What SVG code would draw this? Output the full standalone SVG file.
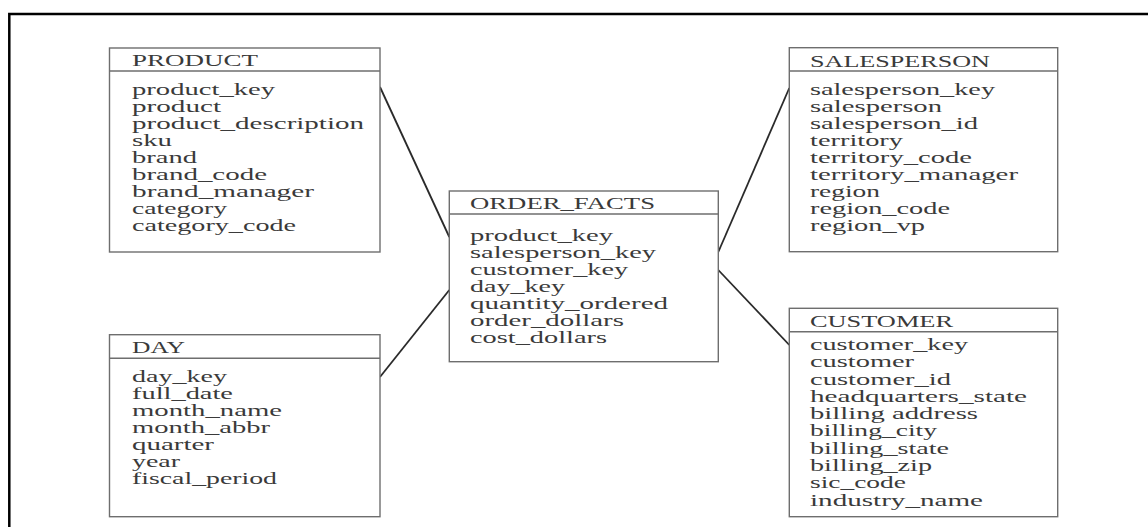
<svg xmlns="http://www.w3.org/2000/svg" width="1148" height="527" viewBox="0 0 1148 527">
<style>
.box{fill:#ffffff;stroke:#6e6e6e;stroke-width:1.4}
.sep{stroke:#6e6e6e;stroke-width:1.4}
text{font-family:"Liberation Serif","Times New Roman",serif;font-size:16.5px;fill:#3a3a3a;lengthAdjust:spacingAndGlyphs}
.conn{stroke:#2a2a2a;stroke-width:1.8;fill:none}
.frame{stroke:#000;stroke-width:2.5;fill:none}
</style>
<rect x="0" y="0" width="1148" height="527" fill="#ffffff"/>
<path class="frame" d="M9.3,527 V14 H1148"/>
<g id="connectors">
<line class="conn" x1="380" y1="87" x2="449.3" y2="237"/>
<line class="conn" x1="380" y1="377" x2="449.3" y2="290"/>
<line class="conn" x1="718.3" y1="252" x2="789.3" y2="88"/>
<line class="conn" x1="718.3" y1="270" x2="789.3" y2="345"/>
</g>
<g id="product">
<rect class="box" x="109.5" y="48" width="270.5" height="204"/>
<line class="sep" x1="109.5" y1="71" x2="380" y2="71"/>
<text x="132" y="65.7" textLength="126" lengthAdjust="spacingAndGlyphs">PRODUCT</text>
<text x="132" y="94.5" textLength="143" lengthAdjust="spacingAndGlyphs">product_key</text>
<text x="132" y="111.6" textLength="89" lengthAdjust="spacingAndGlyphs">product</text>
<text x="132" y="128.7" textLength="232" lengthAdjust="spacingAndGlyphs">product_description</text>
<text x="132" y="145.8" textLength="40" lengthAdjust="spacingAndGlyphs">sku</text>
<text x="132" y="162.9" textLength="65" lengthAdjust="spacingAndGlyphs">brand</text>
<text x="132" y="180" textLength="135" lengthAdjust="spacingAndGlyphs">brand_code</text>
<text x="132" y="197.1" textLength="182" lengthAdjust="spacingAndGlyphs">brand_manager</text>
<text x="132" y="214.2" textLength="95" lengthAdjust="spacingAndGlyphs">category</text>
<text x="132" y="231.3" textLength="164" lengthAdjust="spacingAndGlyphs">category_code</text>
</g>
<g id="day">
<rect class="box" x="109.5" y="334.7" width="270.5" height="182"/>
<line class="sep" x1="109.5" y1="358.3" x2="380" y2="358.3"/>
<text x="132" y="353.3" textLength="53" lengthAdjust="spacingAndGlyphs">DAY</text>
<text x="132" y="381.7" textLength="95" lengthAdjust="spacingAndGlyphs">day_key</text>
<text x="132" y="398.7" textLength="101" lengthAdjust="spacingAndGlyphs">full_date</text>
<text x="132" y="415.8" textLength="150" lengthAdjust="spacingAndGlyphs">month_name</text>
<text x="132" y="432.8" textLength="138" lengthAdjust="spacingAndGlyphs">month_abbr</text>
<text x="132" y="449.9" textLength="82" lengthAdjust="spacingAndGlyphs">quarter</text>
<text x="132" y="466.9" textLength="48" lengthAdjust="spacingAndGlyphs">year</text>
<text x="132" y="484" textLength="145" lengthAdjust="spacingAndGlyphs">fiscal_period</text>
</g>
<g id="order_facts">
<rect class="box" x="449.3" y="191" width="269" height="170.7"/>
<line class="sep" x1="449.3" y1="214" x2="718.3" y2="214"/>
<text x="470" y="209.3" textLength="185" lengthAdjust="spacingAndGlyphs">ORDER_FACTS</text>
<text x="470" y="241" textLength="143" lengthAdjust="spacingAndGlyphs">product_key</text>
<text x="470" y="258" textLength="186" lengthAdjust="spacingAndGlyphs">salesperson_key</text>
<text x="470" y="275" textLength="158" lengthAdjust="spacingAndGlyphs">customer_key</text>
<text x="470" y="292" textLength="95" lengthAdjust="spacingAndGlyphs">day_key</text>
<text x="470" y="309" textLength="198" lengthAdjust="spacingAndGlyphs">quantity_ordered</text>
<text x="470" y="326" textLength="154" lengthAdjust="spacingAndGlyphs">order_dollars</text>
<text x="470" y="343" textLength="137" lengthAdjust="spacingAndGlyphs">cost_dollars</text>
</g>
<g id="salesperson">
<rect class="box" x="789.3" y="47.7" width="268.4" height="204"/>
<line class="sep" x1="789.3" y1="71" x2="1057.7" y2="71"/>
<text x="810" y="66.7" textLength="180" lengthAdjust="spacingAndGlyphs">SALESPERSON</text>
<text x="810" y="94.5" textLength="185" lengthAdjust="spacingAndGlyphs">salesperson_key</text>
<text x="810" y="111.6" textLength="132" lengthAdjust="spacingAndGlyphs">salesperson</text>
<text x="810" y="128.7" textLength="168" lengthAdjust="spacingAndGlyphs">salesperson_id</text>
<text x="810" y="145.8" textLength="93" lengthAdjust="spacingAndGlyphs">territory</text>
<text x="810" y="162.9" textLength="162" lengthAdjust="spacingAndGlyphs">territory_code</text>
<text x="810" y="180" textLength="208" lengthAdjust="spacingAndGlyphs">territory_manager</text>
<text x="810" y="197.1" textLength="70" lengthAdjust="spacingAndGlyphs">region</text>
<text x="810" y="214.2" textLength="140" lengthAdjust="spacingAndGlyphs">region_code</text>
<text x="810" y="231.3" textLength="115" lengthAdjust="spacingAndGlyphs">region_vp</text>
</g>
<g id="customer">
<rect class="box" x="789.3" y="308.3" width="268.4" height="208.4"/>
<line class="sep" x1="789.3" y1="331.7" x2="1057.7" y2="331.7"/>
<text x="810" y="326.7" textLength="143" lengthAdjust="spacingAndGlyphs">CUSTOMER</text>
<text x="810" y="350" textLength="158" lengthAdjust="spacingAndGlyphs">customer_key</text>
<text x="810" y="367.3" textLength="104" lengthAdjust="spacingAndGlyphs">customer</text>
<text x="810" y="384.6" textLength="141" lengthAdjust="spacingAndGlyphs">customer_id</text>
<text x="810" y="401.9" textLength="217" lengthAdjust="spacingAndGlyphs">headquarters_state</text>
<text x="810" y="419.2" textLength="168" lengthAdjust="spacingAndGlyphs">billing address</text>
<text x="810" y="436.4" textLength="127" lengthAdjust="spacingAndGlyphs">billing_city</text>
<text x="810" y="453.7" textLength="139" lengthAdjust="spacingAndGlyphs">billing_state</text>
<text x="810" y="471" textLength="122" lengthAdjust="spacingAndGlyphs">billing_zip</text>
<text x="810" y="488.2" textLength="96" lengthAdjust="spacingAndGlyphs">sic_code</text>
<text x="810" y="505.5" textLength="173" lengthAdjust="spacingAndGlyphs">industry_name</text>
</g>
</svg>
